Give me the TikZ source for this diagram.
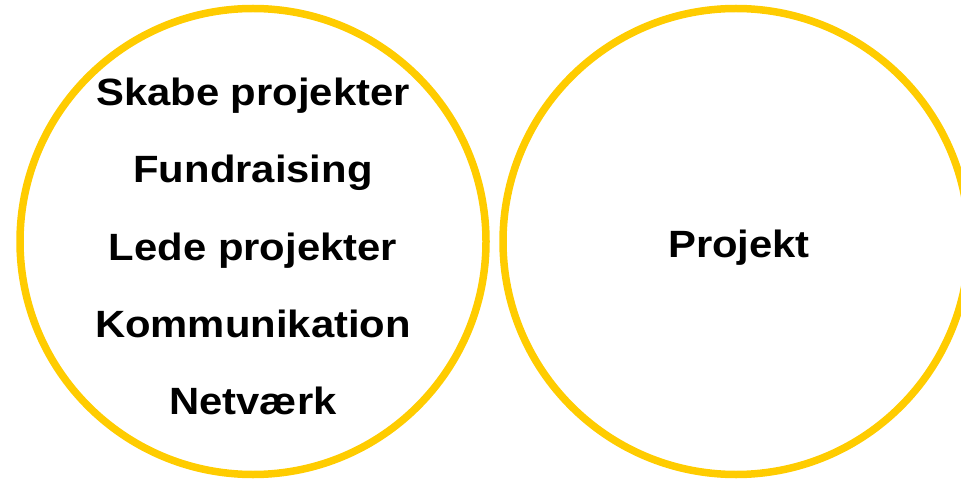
\documentclass[tikz,border=0pt]{standalone}
\usepackage{fontspec}
\setmainfont{Liberation Sans}
\usetikzlibrary{positioning}
\definecolor{ringyellow}{HTML}{FFCC00}
\tikzset{
  x=1pt, y=1pt,
  ring/.style={circle, draw=ringyellow, line width=7.5pt, minimum size=466pt, inner sep=0pt},
  item/.style={font=\fontsize{38}{44}\selectfont\bfseries, xscale=1.1, inner sep=0pt, anchor=base},
}

\begin{document}
\begin{tikzpicture}
    \useasboundingbox (0,0) rectangle (961,480);

    % circles
    \node[ring] (left) at (253,238.5) {};
    \node[ring] (right) at (736,238.5) {};

    % left list
    \node[item] (i1) at (253,374) {Skabe projekter};
    \node[item, below=77pt of i1.base, anchor=base] (i2) {Fundraising};
    \node[item, below=77pt of i2.base, anchor=base] (i3) {Lede projekter};
    \node[item, below=77pt of i3.base, anchor=base] (i4) {Kommunikation};
    \node[item, below=77pt of i4.base, anchor=base] (i5) {Netværk};

    % right label
    \node[item] (p1) at (739,223) {Projekt};
\end{tikzpicture}
\end{document}
